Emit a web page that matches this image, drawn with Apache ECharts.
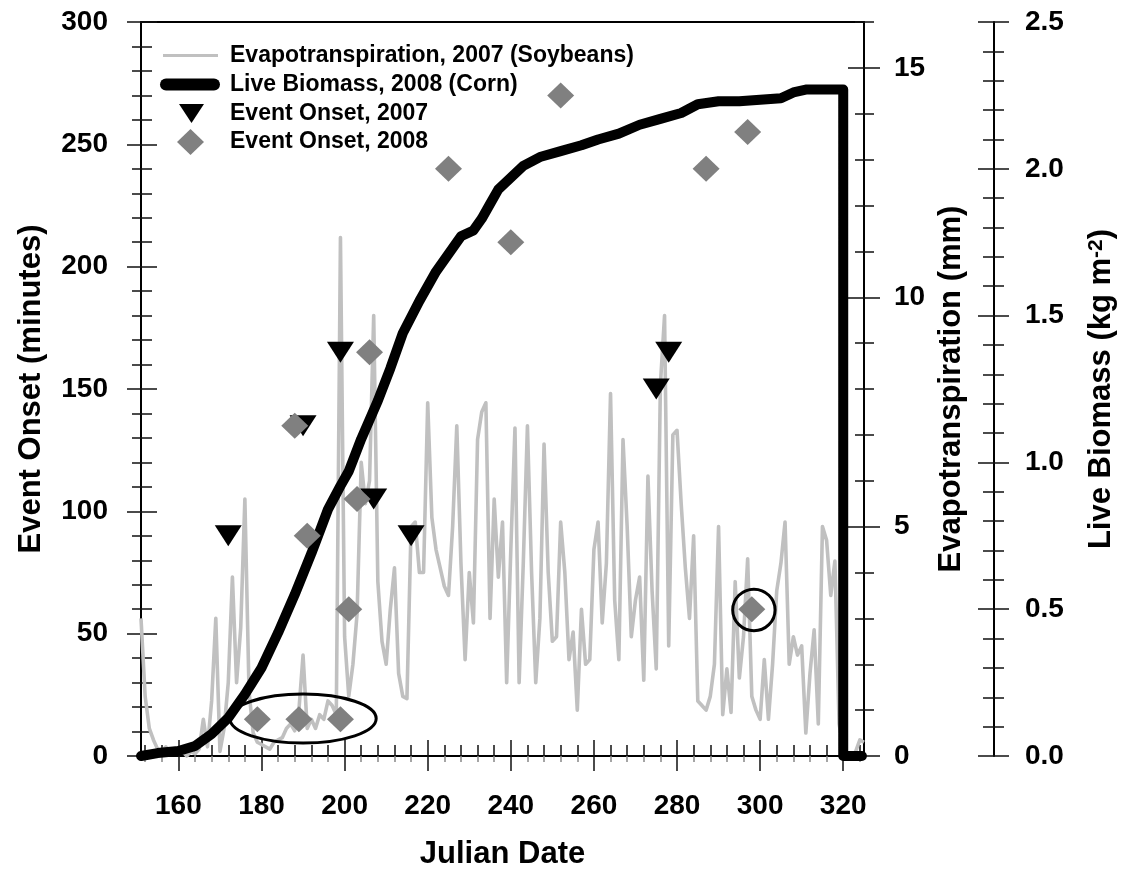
<!DOCTYPE html>
<html>
<head>
<meta charset="utf-8">
<script src="https://cdn.jsdelivr.net/npm/echarts@6/dist/echarts.min.js"></script>
<style>
  html, body { margin: 0; padding: 0; background: #ffffff; }
  #chart { width: 1124px; height: 871px; }
</style>
</head>
<body>
<div id="chart"></div>
<script>
// Daily evapotranspiration (mm), 2007 soybean season, starting on Julian day 151
const etFirstDay = 151;
const etValues = [
  3.0, 1.3, 0.6, 0.35, 0.15, 0.1, 0.2, 0.05, 0.1, 0.05,
  0.1, 0.0, 0.1, 0.05, 0.15, 0.8, 0.2, 1.2, 3.0, 0.1,
  0.6, 1.6, 3.9, 1.6, 2.8, 5.6, 1.4, 0.5, 0.3, 0.25,
  0.2, 0.15, 0.3, 0.35, 0.4, 0.6, 0.7, 0.55, 1.0, 2.2,
  0.6, 0.8, 0.6, 0.9, 0.8, 1.2, 1.1, 0.9, 11.3, 2.6,
  1.3, 2.0, 3.1, 6.4, 5.5, 6.0, 9.6, 3.8, 2.5, 2.0,
  3.2, 4.1, 1.8, 1.3, 1.25, 5.0, 5.1, 4.0, 4.0, 7.7,
  5.2, 4.5, 4.1, 3.7, 3.5, 5.0, 7.2, 4.2, 2.1, 4.0,
  2.9, 6.9, 7.5, 7.7, 3.0, 5.6, 3.9, 5.1, 1.6, 4.5,
  7.15, 1.6, 4.2, 7.2, 4.0, 1.6, 3.0, 6.8, 4.0, 2.5,
  2.6, 5.1, 4.0, 2.1, 2.7, 1.0, 3.2, 2.0, 2.1, 4.5,
  5.1, 2.9, 4.2, 7.9, 3.4, 2.1, 6.9, 5.0, 2.6, 3.4,
  3.9, 1.65, 6.1, 3.6, 1.9, 8.1, 9.6, 2.4, 7.0, 7.1,
  5.5, 4.1, 3.0, 4.8, 1.2, 1.1, 1.0, 1.3, 2.0, 5.0,
  0.9, 1.9, 0.95, 3.8, 1.7, 2.6, 4.3, 1.3, 1.0, 0.8,
  2.1, 0.8, 2.0, 3.6, 4.2, 5.1, 2.0, 2.6, 2.2, 2.4,
  0.5, 1.8, 2.75, 0.7, 5.0, 4.7, 3.5, 4.25, 0.7, 0.2,
  0.05, 0.0, 0.1, 0.35, 0.3
];

// Live biomass (kg m-2), 2008 corn season
const biomassDays = [
  151, 155, 160, 164, 168, 172, 176, 180, 184, 188, 192, 196, 199, 201, 204,
  208, 211, 214, 218, 222, 226, 228, 231, 233, 235, 237, 240, 243, 247, 252,
  257, 261, 266, 271, 276, 281, 285, 290, 295, 300, 305, 308, 311, 320, 320, 324.5
];
const biomassValues = [
  0.0, 0.01, 0.017, 0.034, 0.075, 0.13, 0.21, 0.30, 0.42, 0.55, 0.69, 0.84, 0.92, 0.97, 1.08,
  1.21, 1.32, 1.44, 1.55, 1.65, 1.73, 1.77, 1.79, 1.83, 1.88, 1.93, 1.97, 2.01, 2.04, 2.06,
  2.08, 2.10, 2.12, 2.15, 2.17, 2.19, 2.22, 2.23, 2.23, 2.235, 2.24, 2.26, 2.27, 2.27, 0.0, 0.0
];

// Event onset times (minutes)
const onset2007Days = [172, 190, 199, 207, 216, 275, 278];
const onset2007Minutes = [90, 135, 165, 105, 90, 150, 165];
const onset2008Days = [179, 188, 189, 191, 199, 201, 203, 206, 225, 240, 252, 287, 297, 298];
const onset2008Minutes = [15, 135, 15, 90, 15, 60, 105, 165, 240, 210, 270, 240, 255, 60];

// Outlined groups of events: centre (day, minutes) and half-extent (days, minutes)
const highlightCenters = [[190, 15.3], [298.5, 59.7]];
const highlightHalfSizes = [[17.6, 10.0], [5.1, 8.5]];

// Axis ticks
const dayMajorTicks = [160, 180, 200, 220, 240, 260, 280, 300, 320];
const dayMinorTicks = [152, 156, 164, 168, 172, 176, 184, 188, 192, 196, 204, 208, 212, 216,
  224, 228, 232, 236, 244, 248, 252, 256, 264, 268, 272, 276, 284, 288, 292, 296,
  304, 308, 312, 316, 324];
const onsetMajorTicks = [0, 50, 100, 150, 200, 250, 300];
const onsetMinorTicks = [10, 20, 30, 40, 60, 70, 80, 90, 110, 120, 130, 140, 160, 170, 180, 190,
  210, 220, 230, 240, 260, 270, 280, 290];
const etMajorTicks = [0, 5, 10, 15];
const etMinorTicks = [1, 2, 3, 4, 6, 7, 8, 9, 11, 12, 13, 14, 16];
const biomassMajorTicks = [0, 0.5, 1.0, 1.5, 2.0, 2.5];
const biomassMinorTicks = [0.1, 0.2, 0.3, 0.4, 0.6, 0.7, 0.8, 0.9, 1.1, 1.2, 1.3, 1.4,
  1.6, 1.7, 1.8, 1.9, 2.1, 2.2, 2.3, 2.4];

const FONT = '"Liberation Sans", Arial, sans-serif';
const TICK_COLOR = '#111';

const etSeriesData = etValues.map((v, i) => [etFirstDay + i, v]);
const biomassSeriesData = biomassDays.map((d, i) => [d, biomassValues[i]]);
const onset2007Data = onset2007Days.map((d, i) => [d, onset2007Minutes[i]]);
const onset2008Data = onset2008Days.map((d, i) => [d, onset2008Minutes[i]]);
const highlightData = highlightCenters.map((c, i) => [c[0], c[1], highlightHalfSizes[i][0], highlightHalfSizes[i][1]]);

// An extra axis that only carries one set of ticks (used for ticks crossing the axis line)
function tickOnlyAxis(base, values, inside, length, color) {
  return Object.assign({
    type: 'value',
    axisLine: { show: false },
    axisLabel: { show: false },
    splitLine: { show: false },
    axisTick: {
      show: true, inside: inside, length: length, customValues: values,
      lineStyle: { color: color || TICK_COLOR, width: 1.5 }
    }
  }, base);
}

const xBase = { gridIndex: 0, min: 151, max: 325, position: 'bottom' };
const onsetBase = { min: 0, max: 300, position: 'left' };
const etBase = { min: 0, max: 16, position: 'right', offset: 0 };
const bioBase = { min: 0, max: 2.5, position: 'right', offset: 130 };

const labelStyle = { fontFamily: FONT, fontWeight: 'bold', fontSize: 28, color: '#000' };
const nameStyle = { fontFamily: FONT, fontWeight: 'bold', fontSize: 31, color: '#000' };

const option = {
  animation: false,
  backgroundColor: '#ffffff',
  grid: { left: 141, right: 260, top: 22, bottom: 115, containLabel: false, outerBoundsMode: 'none' },
  xAxis: [
    Object.assign({}, xBase, {
      type: 'value',
      name: 'Julian Date', nameLocation: 'middle', nameGap: 83, nameTextStyle: nameStyle,
      axisLine: { show: true, onZero: false, lineStyle: { color: '#000', width: 2 } },
      axisTick: { show: true, inside: false, length: 15, customValues: dayMajorTicks,
        lineStyle: { color: TICK_COLOR, width: 1.5 } },
      axisLabel: Object.assign({ customValues: dayMajorTicks, margin: 36 }, labelStyle),
      splitLine: { show: false }
    }),
    tickOnlyAxis(xBase, dayMajorTicks, true, 16),
    tickOnlyAxis(xBase, dayMinorTicks, true, 11),
    tickOnlyAxis(xBase, dayMinorTicks, false, 6, '#888'),
    {
      type: 'value', gridIndex: 0, min: 151, max: 325, position: 'top',
      axisLine: { show: true, onZero: false, lineStyle: { color: '#000', width: 2 } },
      axisTick: { show: false }, axisLabel: { show: false }, splitLine: { show: false }
    }
  ],
  yAxis: [
    // 0-3: event onset (minutes), left
    Object.assign({}, onsetBase, {
      type: 'value',
      name: 'Event Onset (minutes)', nameLocation: 'middle', nameGap: 94, nameRotate: 90,
      nameTextStyle: nameStyle,
      axisLine: { show: true, onZero: false, lineStyle: { color: '#000', width: 2 } },
      axisTick: { show: true, inside: false, length: 14, customValues: onsetMajorTicks,
        lineStyle: { color: TICK_COLOR, width: 1.5 } },
      axisLabel: Object.assign({ customValues: onsetMajorTicks, margin: 33 }, labelStyle),
      splitLine: { show: false }
    }),
    tickOnlyAxis(onsetBase, onsetMajorTicks, true, 16),
    tickOnlyAxis(onsetBase, onsetMinorTicks, true, 11),
    tickOnlyAxis(onsetBase, onsetMinorTicks, false, 9),
    // 4-7: evapotranspiration (mm), right
    Object.assign({}, etBase, {
      type: 'value',
      name: 'Evapotranspiration (mm)', nameLocation: 'middle', nameGap: 72, nameRotate: 90,
      nameTextStyle: nameStyle,
      axisLine: { show: true, onZero: false, lineStyle: { color: '#000', width: 2 } },
      axisTick: { show: true, inside: false, length: 16, customValues: etMajorTicks,
        lineStyle: { color: TICK_COLOR, width: 1.5 } },
      axisLabel: Object.assign({ customValues: etMajorTicks, margin: 30 }, labelStyle),
      splitLine: { show: false }
    }),
    tickOnlyAxis(etBase, etMajorTicks, true, 16),
    tickOnlyAxis(etBase, etMinorTicks, true, 9),
    tickOnlyAxis(etBase, etMinorTicks, false, 10),
    // 8-11: live biomass (kg m-2), far right
    Object.assign({}, bioBase, {
      type: 'value',
      name: '{n|Live Biomass (kg m}{s|-2}{n|)}', nameLocation: 'middle', nameGap: 92, nameRotate: 90,
      nameTextStyle: Object.assign({}, nameStyle, {
        rich: {
          n: { fontFamily: FONT, fontWeight: 'bold', fontSize: 31, color: '#000' },
          s: { fontFamily: FONT, fontWeight: 'bold', fontSize: 21, color: '#000', verticalAlign: 'top', padding: [0, 0, 10, 0] }
        }
      }),
      axisLine: { show: true, onZero: false, lineStyle: { color: '#000', width: 2 } },
      axisTick: { show: true, inside: false, length: 15, customValues: biomassMajorTicks,
        lineStyle: { color: TICK_COLOR, width: 1.5 } },
      axisLabel: Object.assign({ customValues: biomassMajorTicks, margin: 31,
        formatter: v => Number(v).toFixed(1) }, labelStyle),
      splitLine: { show: false }
    }),
    tickOnlyAxis(bioBase, biomassMajorTicks, true, 16),
    tickOnlyAxis(bioBase, biomassMinorTicks, true, 11),
    tickOnlyAxis(bioBase, biomassMinorTicks, false, 10)
  ],
  legend: [
    {
      data: [{ name: 'Evapotranspiration, 2007 (Soybeans)', icon: 'rect', itemStyle: { color: '#c0c0c0', borderWidth: 0, opacity: 1 } }],
      left: 163, top: 44, itemWidth: 55, itemHeight: 3, padding: 0, selectedMode: false,
      textStyle: { fontFamily: FONT, fontWeight: 'bold', fontSize: 23, color: '#000', padding: [0, 0, 0, 7] }
    },
    {
      data: [{ name: 'Live Biomass, 2008 (Corn)', icon: 'path://M6,0L54,0A6,6,0,0,1,54,12L6,12A6,6,0,0,1,6,0Z', itemStyle: { color: '#000', borderWidth: 0, opacity: 1 } }],
      left: 160, top: 73, itemWidth: 60, itemHeight: 12, padding: 0, selectedMode: false,
      textStyle: { fontFamily: FONT, fontWeight: 'bold', fontSize: 23, color: '#000', padding: [0, 0, 0, 5] }
    },
    {
      data: [{ name: 'Event Onset, 2007', icon: 'path://M0,0L26,0L13,20Z', itemStyle: { color: '#000', borderWidth: 0, opacity: 1 } }],
      left: 179, top: 102, itemWidth: 25, itemHeight: 20, padding: 0, selectedMode: false,
      textStyle: { fontFamily: FONT, fontWeight: 'bold', fontSize: 23, color: '#000', padding: [0, 0, 0, 21] }
    },
    {
      data: [{ name: 'Event Onset, 2008', icon: 'diamond', itemStyle: { color: '#808080', borderWidth: 0, opacity: 1 } }],
      left: 177, top: 129, itemWidth: 27, itemHeight: 26, padding: 0, selectedMode: false,
      textStyle: { fontFamily: FONT, fontWeight: 'bold', fontSize: 23, color: '#000', padding: [0, 0, 0, 21] }
    }
  ],
  series: [
    {
      name: 'Evapotranspiration, 2007 (Soybeans)', type: 'line',
      xAxisIndex: 0, yAxisIndex: 4, data: etSeriesData,
      symbol: 'none', clip: false, z: 2,
      itemStyle: { color: '#c0c0c0', opacity: 1 },
      lineStyle: { color: '#c0c0c0', width: 3.6, join: 'round', opacity: 1 }
    },
    {
      name: 'Live Biomass, 2008 (Corn)', type: 'line',
      xAxisIndex: 0, yAxisIndex: 8, data: biomassSeriesData,
      symbol: 'none', clip: false, z: 3, smooth: false,
      itemStyle: { color: '#000', opacity: 1 },
      lineStyle: { color: '#000', width: 10, cap: 'round', join: 'round', opacity: 1 }
    },
    {
      name: 'Event Onset, 2007', type: 'scatter',
      xAxisIndex: 0, yAxisIndex: 0, data: onset2007Data,
      symbol: 'triangle', symbolRotate: 180, symbolSize: [27, 21], z: 4,
      itemStyle: { color: '#000', opacity: 1 }
    },
    {
      name: 'Event Onset, 2008', type: 'scatter',
      xAxisIndex: 0, yAxisIndex: 0, data: onset2008Data,
      symbol: 'diamond', symbolSize: [27, 26], z: 5,
      itemStyle: { color: '#808080', opacity: 1 }
    },
    {
      name: 'highlight', type: 'custom',
      xAxisIndex: 0, yAxisIndex: 0, data: highlightData, z: 6, silent: true,
      encode: { x: 0, y: 1 },
      renderItem: function (params, api) {
        const c = api.coord([api.value(0), api.value(1)]);
        const s = api.size([api.value(2), api.value(3)]);
        return {
          type: 'ellipse',
          shape: { cx: c[0], cy: c[1], rx: s[0], ry: s[1] },
          style: { fill: 'none', stroke: '#000', lineWidth: 3 }
        };
      }
    }
  ]
};

const chart = echarts.init(document.getElementById('chart'), null, { renderer: 'canvas' });
chart.setOption(option);
</script>
</body>
</html>
